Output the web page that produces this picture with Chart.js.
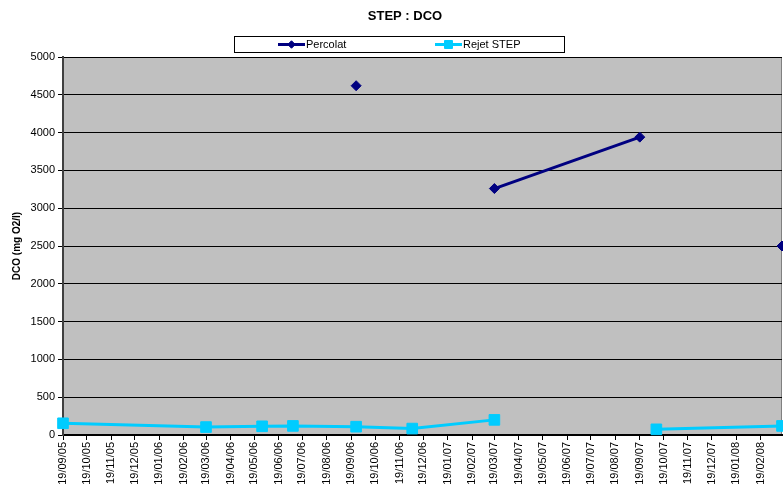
<!DOCTYPE html>
<html>
<head>
<meta charset="utf-8">
<title>STEP : DCO</title>
<script src="https://cdn.jsdelivr.net/npm/chart.js@4.4.1/dist/chart.umd.min.js"></script>
<style>
  html, body { margin: 0; padding: 0; background: #ffffff; }
  #wrap { width: 783px; height: 493px; position: relative; }
</style>
</head>
<body>
<div id="wrap"><canvas id="chart" width="783" height="493"></canvas></div>
<script>
// Sampling dates (dd/mm/yy in the labels) and measured DCO values, mg O2/l
const sampleDates = ['2005-09-19', '2006-03-19', '2006-05-29', '2006-07-07', '2006-09-25',
                     '2006-12-05', '2007-03-19', '2007-09-19', '2007-10-10', '2008-03-17'];
const percolat   = [null, null, null, null, 4620, null, 3260, 3940, null, 2500];
const rejetStep  = [155, 105, 115, 120, 110, 85, 200, null, 75, 120];
const seriesNames = ['Percolat', 'Rejet STEP'];

// Axis range and tick steps
const axisStart = '2005-09-19';
const axisEnd   = '2008-03-17';
const yMin = 0, yMax = 5000, yStep = 500;
const tickDay = 19;   // monthly ticks fall on the 19th

const FONT = '"Liberation Sans", Arial, sans-serif';

function dayNum(iso) {
  const [y, m, d] = iso.split('-').map(Number);
  return Date.UTC(y, m - 1, d) / 86400000;
}
function fmtDay(n) {
  const dt = new Date(n * 86400000);
  const p = v => String(v).padStart(2, '0');
  return p(dt.getUTCDate()) + '/' + p(dt.getUTCMonth() + 1) + '/' + p(dt.getUTCFullYear() % 100);
}
function monthTicks(startIso, endIso) {
  const s = new Date(dayNum(startIso) * 86400000);
  const end = dayNum(endIso);
  const out = [];
  let y = s.getUTCFullYear(), m = s.getUTCMonth();
  for (;;) {
    const v = Date.UTC(y, m, tickDay) / 86400000;
    if (v > end) break;
    if (v >= dayNum(startIso)) out.push({ value: v });
    m++; if (m > 11) { m = 0; y++; }
  }
  return out;
}

const xs = sampleDates.map(dayNum);
const toPoints = arr => arr.map((v, i) => ({ x: xs[i], y: v }));

// Grey plot background and right-hand frame
const plotFrame = {
  id: 'plotFrame',
  beforeDraw(chart) {
    const { ctx, chartArea: a } = chart;
    ctx.save();
    ctx.fillStyle = '#c0c0c0';
    ctx.fillRect(a.left, a.top, a.right - a.left, a.bottom - a.top);
    ctx.strokeStyle = '#808080';
    ctx.lineWidth = 1;
    ctx.beginPath();
    ctx.moveTo(a.right - 0.5, a.top);
    ctx.lineTo(a.right - 0.5, a.bottom);
    ctx.stroke();
    ctx.restore();
  }
};

// Title and boxed legend with line-and-marker samples
const headerBlock = {
  id: 'headerBlock',
  afterDraw(chart) {
    const { ctx } = chart;
    ctx.save();
    ctx.fillStyle = '#000';
    ctx.font = 'bold 13px ' + FONT;
    ctx.textAlign = 'center';
    ctx.textBaseline = 'middle';
    ctx.fillText('STEP : DCO', 405, 16);

    ctx.fillStyle = '#fff';
    ctx.fillRect(234, 36, 331, 16);
    ctx.strokeStyle = '#000';
    ctx.lineWidth = 1;
    ctx.strokeRect(234.5, 36.5, 330, 16);

    const slots = [278, 435];
    chart.data.datasets.forEach((ds, i) => {
      const x0 = slots[i], x1 = x0 + 27, cy = 44.5;
      ctx.strokeStyle = ds.borderColor;
      ctx.lineWidth = 3;
      ctx.beginPath();
      ctx.moveTo(x0, cy); ctx.lineTo(x1, cy);
      ctx.stroke();
      ctx.fillStyle = ds.pointBackgroundColor;
      ctx.strokeStyle = ds.pointBorderColor;
      ctx.lineWidth = 1;
      Chart.helpers.drawPoint(ctx, {
        pointStyle: ds.pointStyle, radius: ds.pointRadius * 0.75, borderWidth: 1
      }, (x0 + x1) / 2, cy);
      ctx.fillStyle = '#000';
      ctx.font = '11px ' + FONT;
      ctx.textAlign = 'left';
      ctx.textBaseline = 'middle';
      ctx.fillText(ds.label, x1 + 1, cy);
    });
    ctx.restore();
  }
};

const chart = new Chart(document.getElementById('chart'), {
  type: 'line',
  data: {
    datasets: [
      {
        label: seriesNames[0],
        data: toPoints(percolat),
        borderColor: '#000080',
        backgroundColor: '#000080',
        pointBackgroundColor: '#000080',
        pointBorderColor: '#000080',
        borderWidth: 3,
        pointStyle: 'rectRot',
        pointRadius: 5,
        pointBorderWidth: 1,
        spanGaps: false,
        tension: 0,
        clip: false
      },
      {
        label: seriesNames[1],
        data: toPoints(rejetStep),
        borderColor: '#00ccff',
        backgroundColor: '#00ccff',
        pointBackgroundColor: '#00ccff',
        pointBorderColor: '#00ccff',
        borderWidth: 3,
        pointStyle: 'rect',
        pointRadius: 7.5,
        pointBorderWidth: 1,
        spanGaps: false,
        tension: 0,
        clip: false
      }
    ]
  },
  options: {
    responsive: false,
    animation: false,
    devicePixelRatio: 1,
    layout: { autoPadding: false, padding: { top: 57, right: 1, left: 0, bottom: 0 } },
    plugins: {
      legend: { display: false },
      title: { display: false },
      tooltip: { enabled: false }
    },
    scales: {
      x: {
        type: 'linear',
        min: dayNum(axisStart),
        max: dayNum(axisEnd),
        afterBuildTicks(scale) { scale.ticks = monthTicks(axisStart, axisEnd); },
        afterFit(scale) {
          scale.height = 58;
          scale.paddingLeft = 0;
          scale.paddingRight = 0;
        },
        ticks: {
          autoSkip: false,
          maxRotation: 90,
          minRotation: 90,
          padding: 2,
          color: '#000',
          font: { family: FONT, size: 11 },
          callback: v => fmtDay(v)
        },
        grid: {
          drawOnChartArea: false,
          drawTicks: true,
          tickLength: 5,
          tickColor: '#000',
          color: '#000'
        },
        border: { display: true, color: '#000', width: 2 }
      },
      y: {
        min: yMin,
        max: yMax,
        afterFit(scale) {
          scale.width = 63;
          scale.paddingTop = 0;
          scale.paddingBottom = 0;
        },
        ticks: {
          stepSize: yStep,
          padding: 3,
          color: '#000',
          font: { family: FONT, size: 11 },
          callback: v => String(v)
        },
        grid: {
          color: '#000',
          lineWidth: 1,
          drawTicks: true,
          tickLength: 5,
          tickColor: '#000'
        },
        border: { display: true, color: '#404040', width: 2 },
        title: {
          display: true,
          text: 'DCO (mg O2/l)',
          color: '#000',
          font: { family: FONT, size: 10, weight: 'bold' },
          padding: { top: 11, bottom: 0 }
        }
      }
    }
  },
  plugins: [plotFrame, headerBlock]
});
</script>
</body>
</html>
